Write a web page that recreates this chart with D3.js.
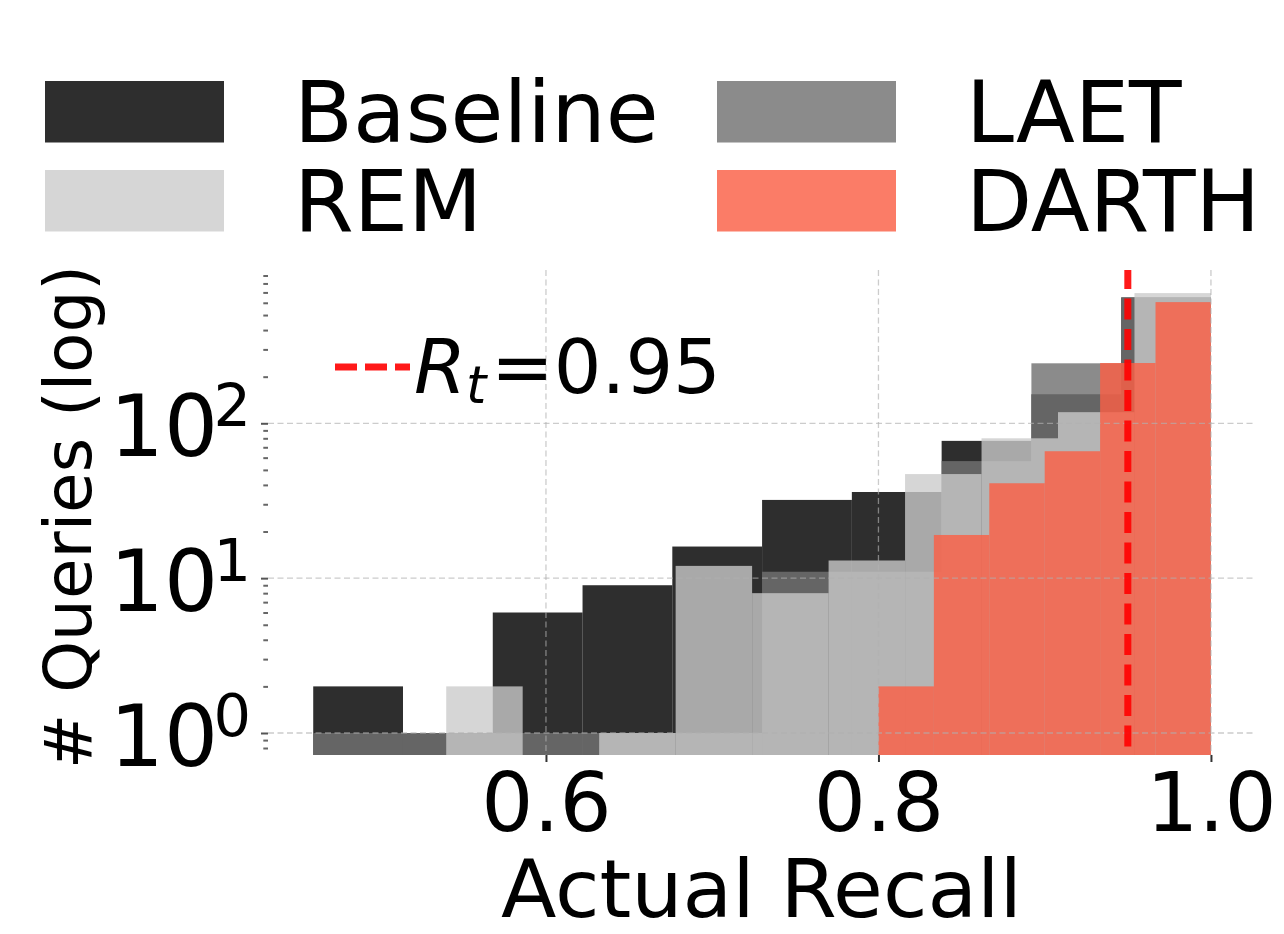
<!DOCTYPE html>
<html><head><meta charset="utf-8">
<script src="https://cdn.jsdelivr.net/npm/d3@7"></script>
<style>
body{margin:0;background:#fff}
svg{display:block}
text{font-family:"DejaVu Sans",sans-serif;fill:#000}
</style></head>
<body><svg id="chart" width="1284" height="934"></svg>
<script>
// ---- data ----
const seriesNames   = ["Baseline", "LAET", "REM", "DARTH"];
const baselineRange = [0.46, 1.0];
const baselineCounts = [2, 1, 6, 9, 16, 32, 36, 77, 154, 650];
const laetRange     = [0.46, 1.0];
const laetCounts    = [1, 1, 1, 1, 1, 11, 11, 57, 244, 650];
const remRange      = [0.54, 1.0];
const remCounts     = [2, 0, 1, 12, 8, 13, 47, 80, 118, 693];
const darthRange    = [0.80, 1.0];
const darthCounts   = [2, 19, 41, 66, 245, 606];
const recallTicks   = [0.6, 0.8, 1.0];
const countTicks    = [1, 10, 100];
const countExponents = ["0", "1", "2"];
const targetRecall  = 0.95;

// ---- styles ----
const styles = {
  Baseline: {fill: "#000000", op: 0.82},
  LAET:     {fill: "rgb(114,114,114)", op: 0.82},
  REM:      {fill: "rgb(203,203,203)", op: 0.785},
  DARTH:    {fill: "rgb(250,95,70)", op: 0.82}
};

const P = {left: 268, right: 1255, top: 270, bottom: 755};
const svg = d3.select("#chart");
const x = d3.scaleLinear().domain([0.4328, 1.0265]).range([P.left, P.right]);
const y = d3.scaleLog().domain([0.721, 977]).range([P.bottom, P.top]);

function toBins(range, counts) {
  const n = counts.length, w = (range[1] - range[0]) / n;
  return counts.map((c, i) => ({x0: range[0] + i * w, x1: range[0] + (i + 1) * w, c}));
}
const series = [
  {name: "Baseline", bins: toBins(baselineRange, baselineCounts)},
  {name: "LAET",     bins: toBins(laetRange, laetCounts)},
  {name: "REM",      bins: toBins(remRange, remCounts)},
  {name: "DARTH",    bins: toBins(darthRange, darthCounts)}
];

// bars
const gBars = svg.append("g");
series.forEach(s => {
  gBars.append("g")
    .attr("fill", styles[s.name].fill)
    .attr("fill-opacity", styles[s.name].op)
    .selectAll("rect").data(s.bins.filter(b => b.c > 0)).join("rect")
    .attr("x", b => x(b.x0))
    .attr("width", b => x(b.x1) - x(b.x0))
    .attr("y", b => y(b.c))
    .attr("height", b => P.bottom - y(b.c));
});

// grid (on top, semi-transparent)
const gGrid = svg.append("g").attr("stroke", "#b0b0b0").attr("stroke-opacity", 0.65)
  .attr("stroke-width", 1.3).attr("stroke-dasharray", "6,3.5");
gGrid.selectAll(".vg").data(recallTicks).join("line")
  .attr("x1", d => x(d)).attr("x2", d => x(d)).attr("y1", P.top).attr("y2", P.bottom);
gGrid.selectAll(".hg").data(countTicks).join("line")
  .attr("x1", P.left).attr("x2", P.right).attr("y1", d => y(d)).attr("y2", d => y(d));

// x axis
const xAxis = svg.append("g").attr("transform", `translate(0,${P.bottom})`)
  .call(d3.axisBottom(x).tickValues(recallTicks).tickFormat(d3.format(".1f")).tickSize(7).tickPadding(11));
xAxis.select(".domain").remove();
xAxis.selectAll(".tick line").attr("stroke", "#333").attr("stroke-width", 2);
xAxis.selectAll(".tick text").attr("font-size", 82).attr("font-family", "DejaVu Sans").attr("fill", "#000");

// y axis minor ticks
const minorVals = [];
[0.1, 1, 10, 100].forEach(dec => { for (let k = 2; k <= 9; k++) { const v = dec * k; if (v >= y.domain()[0] && v <= y.domain()[1]) minorVals.push(v); } });
const yMinor = svg.append("g").attr("transform", `translate(${P.left},0)`)
  .call(d3.axisLeft(y).tickValues(minorVals).tickFormat("").tickSize(4.7));
yMinor.select(".domain").remove();
yMinor.selectAll(".tick line").attr("stroke", "#666").attr("stroke-width", 2);

// y axis major ticks + labels 10^k
const yAxis = svg.append("g").attr("transform", `translate(${P.left},0)`)
  .call(d3.axisLeft(y).tickValues(countTicks).tickFormat("").tickSize(7));
yAxis.select(".domain").remove();
yAxis.selectAll(".tick line").attr("stroke", "#555").attr("stroke-width", 2);
yAxis.selectAll(".tick").each(function(d, i) {
  const g = d3.select(this);
  g.append("text").attr("x", -50).attr("y", 32).attr("text-anchor", "end")
    .attr("font-size", 85).text("10");
  g.append("text").attr("x", -54.5).attr("y", 2).attr("text-anchor", "start")
    .attr("font-size", 59).text(countExponents[i]);
});

// axis labels
svg.append("text").attr("x", (P.left + P.right) / 2).attr("y", 916.5)
  .attr("text-anchor", "middle").attr("font-size", 81).text("Actual Recall");
svg.append("text").attr("transform", "translate(91,517) rotate(-90)")
  .attr("text-anchor", "middle").attr("font-size", 66).text("# Queries (log)");

// threshold line
svg.append("line").attr("x1", x(targetRecall)).attr("x2", x(targetRecall))
  .attr("y1", P.top).attr("y2", P.bottom)
  .attr("stroke", "#ff0000").attr("stroke-opacity", 0.9).attr("stroke-width", 7)
  .attr("stroke-dasharray", "21,9.5").attr("stroke-dashoffset", 2);

// threshold legend
svg.append("line").attr("x1", 335).attr("x2", 410).attr("y1", 367).attr("y2", 367)
  .attr("stroke", "#ff0000").attr("stroke-opacity", 0.9).attr("stroke-width", 7)
  .attr("stroke-dasharray", "22,8");
const rt = svg.append("text").attr("font-size", 75);
rt.append("tspan").attr("x", 414).attr("y", 393).attr("font-style", "italic").text("R");
rt.append("tspan").attr("x", 466).attr("y", 403).attr("font-style", "italic").attr("font-size", 52).text("t");
rt.append("tspan").attr("x", 491).attr("y", 393).text("=" + targetRecall.toFixed(2));

// legend (2 columns: Baseline, REM | LAET, DARTH)
const legendItems = [
  {name: "Baseline", px: 45,  tx: 294, row: 0},
  {name: "REM",      px: 45,  tx: 294, row: 1},
  {name: "LAET",     px: 717, tx: 966, row: 0},
  {name: "DARTH",    px: 717, tx: 966, row: 1}
];
const rowTop = [81, 170];
const gLeg = svg.append("g");
legendItems.forEach(it => {
  gLeg.append("rect").attr("x", it.px).attr("y", rowTop[it.row]).attr("width", 179).attr("height", 61.5)
    .attr("fill", styles[it.name].fill).attr("fill-opacity", styles[it.name].op);
  gLeg.append("text").attr("x", it.tx).attr("y", rowTop[it.row] + 61).attr("font-size", 86).text(it.name);
});
</script>
</body></html>
